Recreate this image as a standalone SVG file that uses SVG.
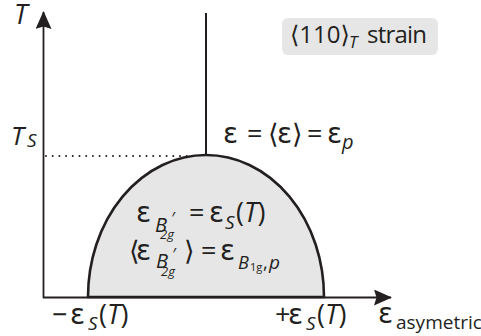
<svg xmlns="http://www.w3.org/2000/svg" width="481" height="336" viewBox="0 0 481 336">
  <style>
    text { font-family: "Open Sans", "Noto Sans", "DejaVu Sans", sans-serif; fill: #231f20; }
    .m { font-size: 27px; }
    .it { font-style: italic; }
    .sub { font-size: 19px; font-style: italic; }
    .e { font-family: "DejaVu Sans", sans-serif; font-size: 28px; }
    .pr { font-size: 16px; font-style: italic; }
    .ax { stroke: #231f20; stroke-width: 1.8; fill: none; }
  </style>
  <defs>
    <marker id="arr" viewBox="0 0 18 16" refX="17" refY="8" markerWidth="18" markerHeight="16" markerUnits="userSpaceOnUse" orient="auto">
      <path d="M0,0 L18,8 L0,16 L2.5,8 Z" fill="#231f20"/>
    </marker>
  </defs>

  <g id="region">
    <path d="M88,297 A118,142 0 0 1 324,297 Z" fill="#e6e6e6" stroke="#231f20" stroke-width="2.6"/>
  </g>

  <g id="connectors">
    <line class="ax" x1="43.5" y1="298" x2="43.5" y2="12" marker-end="url(#arr)"/>
    <line class="ax" x1="43" y1="297.5" x2="391" y2="297.5" marker-end="url(#arr)"/>
    <line x1="206" y1="13" x2="206" y2="156" stroke="#231f20" stroke-width="2"/>
    <line x1="46" y1="156" x2="196" y2="156" stroke="#231f20" stroke-width="2" stroke-dasharray="0 6.7" stroke-linecap="round"/>
  </g>

  <g id="axis-T">
    <text x="14" y="24" font-size="27" class="it">T</text>
  </g>
  <g id="axis-TS">
    <text y="145" font-size="26" class="it"><tspan x="11">T</tspan><tspan x="27" y="147" font-size="19">S</tspan></text>
  </g>

  <g id="legend">
    <rect x="282" y="18" width="156" height="37" rx="6" fill="#e6e6e6"/>
    <text y="43" font-size="24"><tspan x="290">⟨110⟩</tspan><tspan x="349" y="48" font-size="17" class="it">T</tspan><tspan x="367" y="43" textLength="60">strain</tspan></text>
  </g>

  <g id="label-upper">
    <text y="143" class="m"><tspan x="223" class="e">ε</tspan><tspan x="247">=</tspan><tspan x="268">⟨</tspan><tspan x="277" class="e">ε</tspan><tspan x="292">⟩</tspan><tspan x="307">=</tspan><tspan x="327" class="e">ε</tspan><tspan x="342" y="149" font-size="20" class="it">p</tspan></text>
  </g>

  <g id="label-inner">
    <text class="m"><tspan x="136" y="222" class="e">ε</tspan><tspan x="155" y="232" class="it" font-size="20">B</tspan><tspan x="171" y="224" class="pr">′</tspan><tspan x="160" y="239" font-size="13" class="it">2g</tspan><tspan x="189" y="222">=</tspan><tspan x="209" y="222" class="e">ε</tspan><tspan x="225" y="229" class="sub">S</tspan><tspan x="236" y="222">(</tspan><tspan class="it">T</tspan><tspan>)</tspan></text>
    <text class="m"><tspan x="129" y="260">⟨</tspan><tspan x="136" y="260" class="e">ε</tspan><tspan x="156" y="268" class="it" font-size="20">B</tspan><tspan x="172" y="260" class="pr">′</tspan><tspan x="161" y="276" font-size="13" class="it">2g</tspan><tspan x="184" y="260">⟩</tspan><tspan x="201" y="260">=</tspan><tspan x="220" y="260" class="e">ε</tspan><tspan x="238" y="269" class="it" font-size="18">B</tspan><tspan x="250" y="271" font-size="11">1g</tspan><tspan x="263" y="269" font-size="18">,</tspan><tspan x="269" y="269" class="it" font-size="19">p</tspan></text>
  </g>

  <g id="label-minus">
    <text y="324" class="m"><tspan x="52">−</tspan><tspan x="70" class="e">ε</tspan><tspan x="88" y="330" class="sub">S</tspan><tspan x="99" y="324">(</tspan><tspan class="it">T</tspan><tspan>)</tspan></text>
  </g>
  <g id="label-plus">
    <text y="324" class="m"><tspan x="275">+</tspan><tspan x="288" class="e">ε</tspan><tspan x="306" y="330" class="sub">S</tspan><tspan x="317" y="324">(</tspan><tspan class="it">T</tspan><tspan>)</tspan></text>
  </g>
  <g id="axis-x">
    <text y="323" class="m"><tspan x="378" class="e">ε</tspan><tspan x="396" y="329" font-size="19">asymetric</tspan></text>
  </g>
</svg>
